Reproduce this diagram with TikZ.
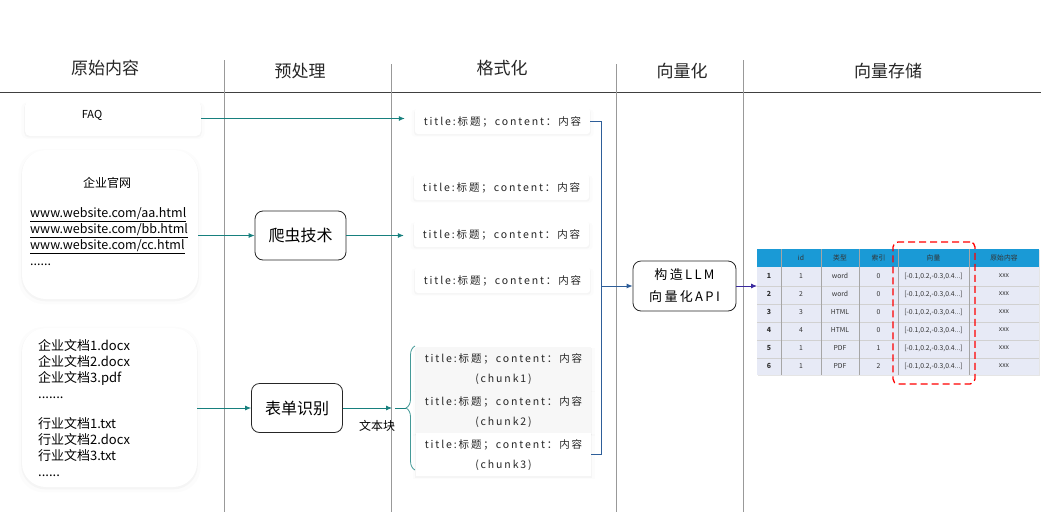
\documentclass[tikz,border=0pt]{standalone}
\usepackage{fontspec}
\setmainfont{Noto Sans CJK SC}
\newfontfamily\widefont[LetterSpace=18]{Noto Sans CJK SC}
\usetikzlibrary{arrows.meta,shadows,decorations.pathreplacing}
\definecolor{flowteal}{HTML}{17807E}
\definecolor{busblue}{HTML}{2E5E99}
\definecolor{vecpurple}{HTML}{3A2A9E}
\definecolor{headcyan}{HTML}{1A9AD6}
\definecolor{rowfill}{HTML}{E7EAF6}

\begin{document}
\begin{tikzpicture}[x=1pt,y=-1pt]
\tikzstyle{lane} = [draw=black!40, line width=0.7pt]
\tikzstyle{title} = [font=\fontsize{17}{20}\selectfont, text=black!85]
\tikzstyle{card} = [rectangle, fill=white, inner sep=0pt, drop shadow={opacity=0.025, shadow xshift=0pt, shadow yshift=-2pt, shadow scale=1.04}, drop shadow={opacity=0.05, shadow xshift=0pt, shadow yshift=-1.5pt, shadow scale=1.01}]
\tikzstyle{tool} = [rectangle, rounded corners=8pt, draw=black!85, fill=white, line width=0.8pt, minimum width=91pt, minimum height=49pt, font=\fontsize{16}{19}\selectfont]
\tikzstyle{fmt} = [card, rounded corners=3pt, minimum width=175pt, minimum height=26pt, text depth=0pt, font=\widefont\fontsize{10.5}{13}\selectfont, text=black!85]
\tikzstyle{chunk} = [fmt, rounded corners=0pt, minimum height=43pt, align=center, font=\widefont\fontsize{10.5}{20}\selectfont]
\tikzstyle{edge} = [-{Latex[length=6pt,width=5pt]}, draw=flowteal, line width=0.8pt]
\tikzstyle{bus} = [draw=busblue, line width=0.8pt]
\tikzstyle{cell} = [font=\fontsize{6.8}{8}\selectfont, text=black!80]

\fill[white] (0,0) rectangle (1044,512);
\useasboundingbox (0,0) rectangle (1044,512);

% swimlanes
\draw[black!75, line width=0.8pt] (0,92) -- (1041,92);
\draw[lane] (224,60) -- (224,512);
\draw[lane] (391,64) -- (391,512);
\draw[lane] (616,64) -- (616,512);
\draw[lane] (743,60) -- (743,512);
\node[title] (h1) at (105,68) {原始内容};
\node[title] (h2) at (300,71) {预处理};
\node[title] (h3) at (502,68) {格式化};
\node[title] (h4) at (682,71) {向量化};
\node[title] (h5) at (888,71) {向量存储};

% sources
\node[card, rounded corners=5pt, minimum width=176pt, minimum height=35pt] (faq) at (113,118.5) {};
\node[font=\fontsize{11}{13}\selectfont] (faqlabel) at (92,115) {FAQ};
\node[card, rounded corners=24pt, minimum width=176pt, minimum height=149pt] (site) at (110,224.5) {};
\node[font=\fontsize{12}{14}\selectfont] (sitelabel) at (107,183) {企业官网};
\node[anchor=north west, align=left, inner sep=0pt, font=\fontsize{12.5}{16}\selectfont] (urls) at (30,207) {\underline{www.website.com/aa.html}\\\underline{www.website.com/bb.html}\\\underline{www.website.com/cc.html}\\......};
\node[card, rounded corners=24pt, minimum width=175pt, minimum height=159pt] (docs) at (109.5,407.5) {};
\node[anchor=north west, align=left, inner sep=0pt, font=\fontsize{13}{16}\selectfont] (doclist) at (38,339) {企业文档1.docx\\企业文档2.docx\\企业文档3.pdf\\.......\\[14pt]行业文档1.txt\\行业文档2.docx\\行业文档3.txt\\......};

% preprocessing
\node[tool] (crawl) at (300.5,235.5) {爬虫技术};
\node[tool] (form) at (297,408) {表单识别};

% formatted records
\node[fmt] (fmt1) at (502.5,121) {title:标题；content：内容};
\node[fmt] (fmt2) at (501.5,187) {title:标题；content：内容};
\node[fmt] (fmt3) at (501.5,234) {title:标题；content：内容};
\node[fmt] (fmt4) at (502.5,280) {title:标题；content：内容};
\node[chunk, fill=black!3] (chunk1) at (503.5,368) {title:标题；content：内容\\(chunk1)};
\node[chunk, fill=black!3] (chunk2) at (503.5,411.5) {title:标题；content：内容\\(chunk2)};
\node[chunk] (chunk3) at (503.5,454.5) {title:标题；content：内容\\(chunk3)};

% vectorizing
\node[tool, minimum width=103pt, minimum height=50pt, align=center, font=\widefont\fontsize{13}{22}\selectfont] (llm) at (684.5,286) {构造LLM\\向量化API};

% vector store
\node[rectangle, fill=rowfill, minimum width=282pt, minimum height=126pt, anchor=north west, inner sep=0pt, drop shadow={opacity=0.2, shadow xshift=1pt, shadow yshift=-1pt}] (tab) at (757,249) {};
\fill[headcyan] (757,249) rectangle (1039,267);
\foreach \y in {286,304,322,340,358}
  \draw[black!18, line width=0.8pt] (757,\y) -- (1039,\y);
\foreach \x in {781,821,859,898,969}
  \draw[black!35] (\x,249) -- (\x,375);
\node[cell] (hid) at (801,258) {id};
\node[cell] (hkind) at (840,258) {类型};
\node[cell] (hidx) at (878.5,258) {索引};
\node[cell] (hvec) at (933.5,258) {向量};
\node[cell] (hraw) at (1004,258) {原始内容};
\foreach \i/\id/\kind/\ix in {1/1/word/0,2/2/word/0,3/3/HTML/0,4/4/HTML/0,5/1/PDF/1,6/1/PDF/2}{
  \node[cell, font=\bfseries\fontsize{7}{8}\selectfont] (no\i) at (769,258+18*\i) {\i};
  \node[cell] (id\i) at (801,258+18*\i) {\id};
  \node[cell] (kind\i) at (840,258+18*\i) {\kind};
  \node[cell] (idx\i) at (878.5,258+18*\i) {\ix};
  \node[cell] (vec\i) at (933.5,258+18*\i) {[-0.1,0.2,-0.3,0.4...]};
  \node[cell] (raw\i) at (1004,258+18*\i) {xxx};
}
\node[rectangle, draw=red, line width=1.3pt, dash pattern=on 7pt off 4pt, rounded corners=5pt, minimum width=82pt, minimum height=142pt] (vecmark) at (934,313) {};

% connectors
\draw[edge] (faq.east) -- ([xshift=-10pt]faq.east -| fmt1.west);
\draw[edge] (site.east |- crawl.west) -- (crawl.west);
\draw[edge] (crawl.east) -- ([xshift=-10pt]crawl.east -| fmt3.west);
\draw[edge] (docs.east |- form.west) -- (form.west);
\coordinate (chunkin) at (392,408);
\coordinate (bracetip) at (406,408);
\draw[edge] (form.east) -- (chunkin);
\draw[flowteal, line width=0.8pt] ([xshift=3pt]chunkin) -- (bracetip);
\draw[flowteal!80, line width=0.8pt, decorate, decoration={brace, amplitude=9pt}] (415,470) -- (415,346);
\node[font=\fontsize{12}{14}\selectfont] (chunklabel) at (377,426) {文本块};
\coordinate (busbot) at (601,454.5);
\coordinate (busout) at (601,286);
\draw[bus] (fmt1.east) -| (busbot) -- (chunk3.east);
\draw[bus, -{Latex[length=6pt,width=5pt]}] (busout) -- (llm.west);
\draw[vecpurple, line width=0.8pt, -{Latex[length=6pt,width=5pt]}] (llm.east) -- (llm.east -| tab.west);
\end{tikzpicture}
\end{document}
